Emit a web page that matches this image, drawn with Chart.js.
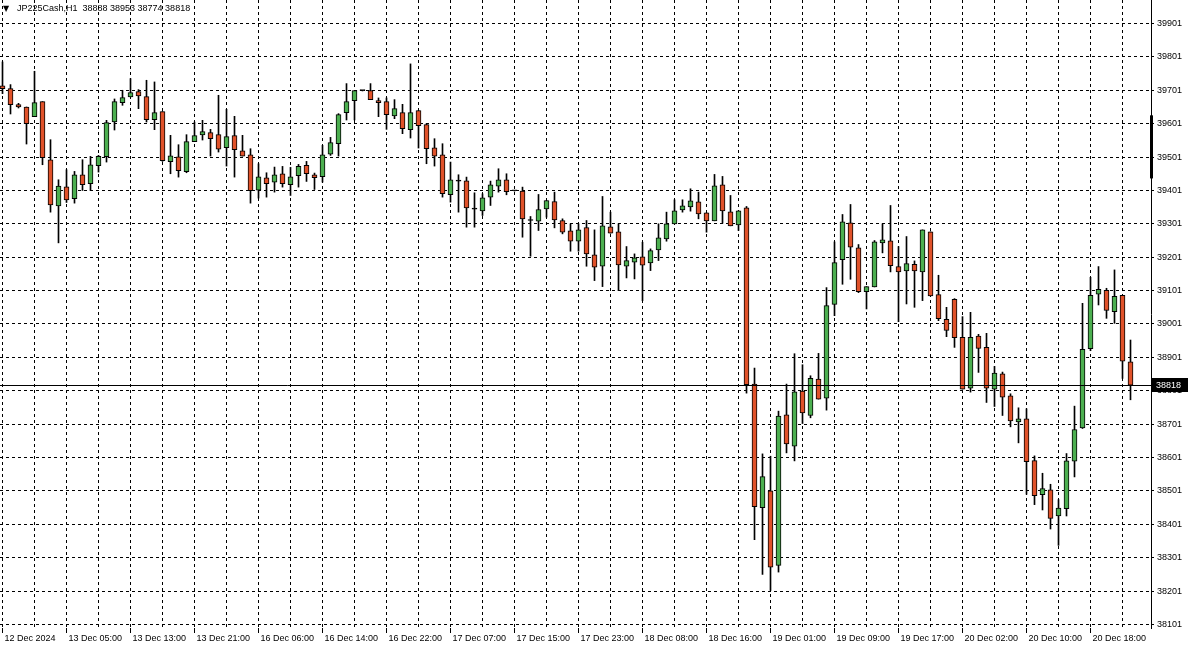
<!DOCTYPE html>
<html>
<head>
<meta charset="utf-8">
<script src="https://cdn.jsdelivr.net/npm/chart.js@4.4.1/dist/chart.umd.min.js"></script>
<style>
  html, body { margin: 0; padding: 0; background: #fff; }
  canvas { display: block; }
</style>
</head>
<body>
<canvas id="grafico" width="1188" height="649"></canvas>
<script>
const simbolo = 'JP225Cash,H1';

// velas de 1 hora, da esquerda para a direita
const abertura = [39714,39706,39658,39651,39622,39667,39493,39355,39412,39376,39448,39421,39475,39502,39606,39664,39681,39697,39682,39613,
  39637,39487,39502,39457,39547,39567,39574,39568,39529,39565,39520,39508,39402,39439,39426,39451,39418,39445,39476,39448,
  39442,39510,39541,39634,39670,39700,39700,39670,39667,39624,39634,39583,39640,39598,39529,39508,39388,39430,39430,39346,
  39340,39381,39414,39433,39400,39399,39312,39309,39346,39368,39311,39280,39249,39290,39208,39174,39292,39277,39174,39186,
  39202,39184,39223,39256,39301,39343,39352,39367,39334,39310,39418,39337,39298,39349,38821,38451,38501,38278,38729,38635,
  38800,38727,38836,38779,39060,39194,39304,39229,39098,39112,39244,39250,39173,39160,39180,39157,39277,39089,39015,39075,
  38961,38809,38965,38931,38806,38852,38786,38708,38717,38592,38490,38504,38426,38448,38590,38690,38927,39090,39102,39038,
  39087,38888];
const maxima = [39786,39718,39662,39651,39758,39667,39553,39433,39463,39458,39493,39503,39506,39611,39675,39701,39736,39703,39731,39726,
  39637,39566,39538,39568,39606,39611,39584,39686,39644,39623,39566,39526,39481,39454,39471,39473,39470,39479,39488,39453,
  39536,39560,39631,39721,39700,39701,39721,39678,39678,39673,39659,39780,39640,39601,39556,39541,39486,39448,39441,39394,
  39391,39429,39466,39451,39401,39411,39323,39389,39371,39396,39316,39301,39301,39311,39283,39383,39336,39301,39233,39211,
  39246,39226,39301,39336,39373,39373,39406,39396,39334,39449,39443,39386,39340,39353,38869,38612,38605,38740,38821,38912,
  38879,38846,38913,39110,39247,39329,39359,39239,39113,39251,39301,39356,39233,39263,39190,39283,39277,39147,39051,39077,
  39023,39036,38970,38973,38874,38857,38792,38750,38747,38606,38554,38521,38475,38613,38755,39063,39141,39173,39108,39163,
  39087,38953];
const minima = [39691,39630,39648,39540,39622,39478,39336,39244,39365,39363,39401,39401,39456,39486,39582,39656,39681,39646,39606,39583,
  39488,39451,39441,39454,39547,39552,39504,39516,39474,39441,39504,39363,39378,39381,39396,39411,39386,39411,39428,39404,
  39426,39506,39504,39612,39612,39699,39673,39622,39584,39616,39571,39558,39528,39481,39474,39381,39366,39336,39291,39291,
  39326,39356,39396,39388,39399,39261,39204,39281,39321,39289,39271,39219,39219,39174,39131,39113,39273,39101,39139,39136,
  39071,39161,39191,39249,39301,39336,39339,39316,39276,39310,39303,39295,39281,38794,38355,38251,38203,38258,38615,38591,
  38703,38720,38776,38743,39026,39120,39135,39095,39046,39112,39214,39157,39008,39061,39051,39071,39085,39011,38963,38931,
  38806,38797,38856,38766,38754,38727,38693,38645,38491,38460,38444,38387,38338,38426,38543,38688,38921,39058,39018,39003,
  38838,38774];
const fechamento = [39706,39658,39651,39601,39664,39499,39358,39414,39373,39448,39418,39478,39503,39604,39667,39679,39694,39684,39613,39634,
  39490,39505,39460,39547,39565,39577,39556,39525,39562,39523,39504,39400,39442,39421,39448,39421,39442,39473,39451,39439,
  39508,39544,39628,39667,39700,39700,39673,39664,39628,39646,39586,39634,39595,39526,39504,39391,39433,39429,39349,39345,
  39379,39418,39433,39397,39400,39316,39311,39344,39371,39313,39276,39249,39283,39211,39171,39295,39273,39178,39191,39199,
  39177,39221,39259,39301,39340,39355,39370,39331,39310,39415,39340,39295,39340,38819,38454,38544,38273,38725,38642,38798,
  38735,38838,38776,39056,39185,39307,39231,39098,39113,39247,39253,39176,39157,39182,39160,39283,39085,39017,38982,38960,
  38806,38961,38928,38809,38854,38782,38711,38717,38589,38487,38508,38419,38450,38591,38685,38925,39087,39105,39042,39084,
  38890,38818];

// rótulos do eixo de tempo, um a cada 8 velas
const rotulosTempo = ['12 Dec 2024','13 Dec 05:00','13 Dec 13:00','13 Dec 21:00','16 Dec 06:00','16 Dec 14:00',
  '16 Dec 22:00','17 Dec 07:00','17 Dec 15:00','17 Dec 23:00','18 Dec 08:00','18 Dec 16:00',
  '19 Dec 01:00','19 Dec 09:00','19 Dec 17:00','20 Dec 02:00','20 Dec 10:00','20 Dec 18:00'];
const precosEixo = [39901,39801,39701,39601,39501,39401,39301,39201,39101,39001,38901,38801,38701,38601,38501,38401,38301,38201,38101];
const marcaEixo = [39437, 39626];

const fonte = '"Liberation Sans", Arial, sans-serif';

const indices = abertura.map((_, i) => i);
const corpos = indices.map(i => ({ x: i, y: [abertura[i], fechamento[i]] }));
const pavios = indices.map(i => ({ x: i, y: [minima[i], maxima[i]] }));
const cores = indices.map(i => {
  if (Math.abs(fechamento[i] - abertura[i]) < 4) return '#000';
  return fechamento[i] > abertura[i] ? '#4caf50' : '#e0522a';
});

const extras = {
  id: 'extras',
  afterDraw(chart) {
    const { ctx, chartArea: a, scales: { y } } = chart;
    const ultimo = fechamento[fechamento.length - 1];
    const py = Math.round(y.getPixelForValue(ultimo)) + 0.5;
    ctx.save();
    // linha do preço atual
    ctx.strokeStyle = '#000';
    ctx.lineWidth = 1;
    ctx.beginPath();
    ctx.moveTo(a.left, py);
    ctx.lineTo(a.right, py);
    ctx.stroke();
    ctx.fillStyle = '#000';
    ctx.fillRect(a.right + 1, py - 7.5, 36, 14);
    ctx.fillStyle = '#fff';
    ctx.font = '9px ' + fonte;
    ctx.textBaseline = 'middle';
    ctx.fillText(String(ultimo), a.right + 5, py);
    // marca grossa no eixo
    ctx.fillStyle = '#000';
    const t = y.getPixelForValue(marcaEixo[1]);
    const b = y.getPixelForValue(marcaEixo[0]);
    ctx.fillRect(a.right - 1, t, 3, b - t);
    // cabeçalho
    const n = fechamento.length - 1;
    ctx.font = '8px "DejaVu Sans"';
    ctx.fillText('▼', 3, 9);
    ctx.font = '9px ' + fonte;
    ctx.fillText(simbolo + '  ' + abertura[n] + ' ' + maxima[n] + ' ' + minima[n] + ' ' + fechamento[n], 17, 9);
    ctx.restore();
  }
};

const ctx = document.getElementById('grafico').getContext('2d');
new Chart(ctx, {
  type: 'bar',
  data: {
    datasets: [
      {
        label: 'corpo',
        data: corpos,
        backgroundColor: cores,
        borderColor: '#000',
        borderWidth: 1,
        borderSkipped: false,
        barThickness: 5,
        minBarLength: 1,
        grouped: false
      },
      {
        label: 'pavio',
        data: pavios,
        backgroundColor: '#000',
        borderWidth: 0,
        barThickness: 1,
        grouped: false
      }
    ]
  },
  options: {
    responsive: false,
    animation: false,
    devicePixelRatio: 1,
    layout: { padding: 0 },
    plugins: { legend: { display: false }, tooltip: { enabled: false } },
    scales: {
      x: {
        type: 'linear',
        offset: false,
        bounds: 'data',
        min: -0.3125,
        max: -0.3125 + 1151 / 8,
        grid: {
          offset: false,
          color: '#000',
          lineWidth: 1,
          drawTicks: true,
          tickLength: 5,
          tickBorderDash: [],
          tickColor: c => (c.tick && c.tick.value % 8 === 0) ? '#000' : 'rgba(0,0,0,0)'
        },
        border: { display: false, dash: [3, 3] },
        afterBuildTicks: s => { s.ticks = []; for (let v = 0; v < abertura.length; v += 4) s.ticks.push({ value: v }); },
        afterFit: s => { s.height = 21; s.paddingLeft = 0; s.paddingRight = 0; },
        ticks: {
          autoSkip: false,
          maxRotation: 0,
          minRotation: 0,
          align: 'start',
          labelOffset: 2,
          padding: 0,
          color: '#000',
          font: { family: fonte, size: 9 },
          callback: v => (v % 8 === 0 && rotulosTempo[v / 8]) ? rotulosTempo[v / 8] : ''
        }
      },
      y: {
        position: 'right',
        bounds: 'data',
        min: 38090.5,
        max: 39971.4,
        grid: {
          color: '#000',
          lineWidth: 1,
          drawTicks: true,
          tickLength: 3,
          tickBorderDash: [],
          tickColor: '#000'
        },
        border: { display: true, color: '#000', width: 1, dash: [3, 3] },
        afterBuildTicks: s => { s.ticks = precosEixo.map(v => ({ value: v })); },
        afterFit: s => { s.width = 37; s.paddingTop = 0; s.paddingBottom = 0; },
        ticks: {
          autoSkip: false,
          padding: 3,
          color: '#000',
          font: { family: fonte, size: 9 },
          callback: v => String(v)
        }
      }
    }
  },
  plugins: [extras]
});
</script>
</body>
</html>
